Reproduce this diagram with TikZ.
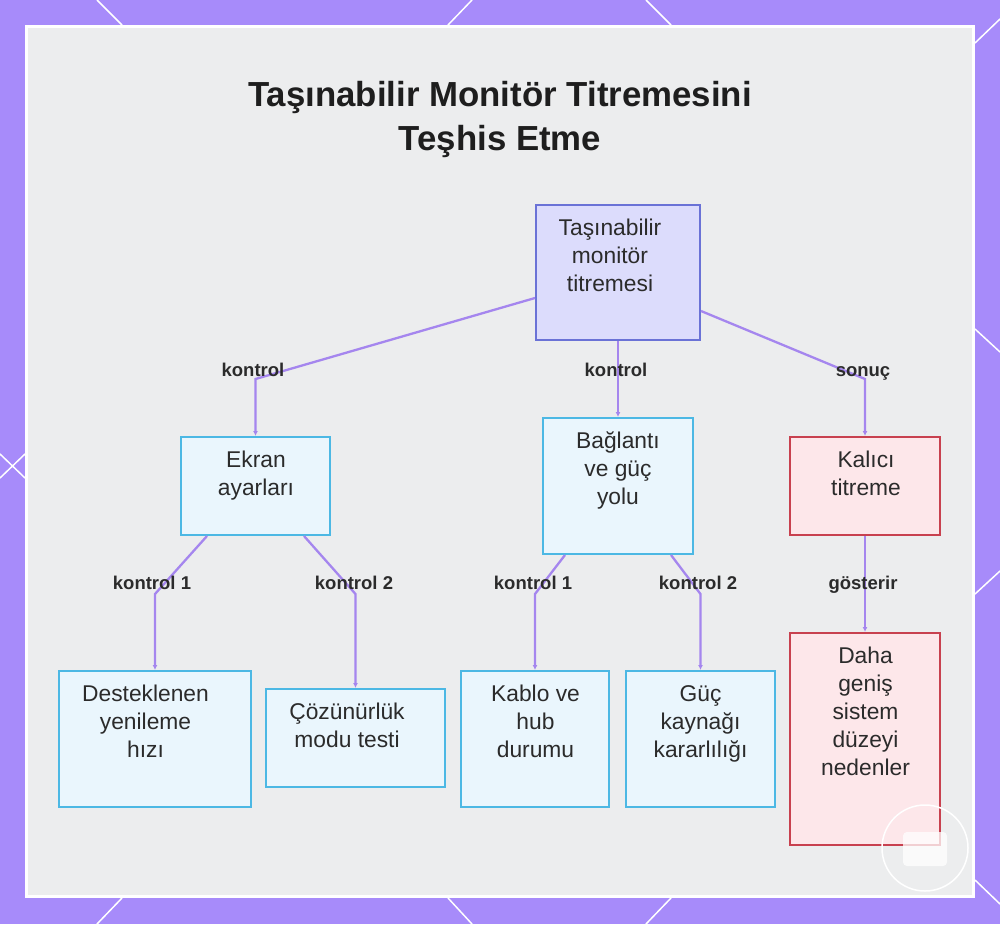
\documentclass[tikz,border=0pt]{standalone}
\usepackage{fontspec}
\setmainfont{Liberation Sans}
\usetikzlibrary{arrows.meta}
\definecolor{bgpurple}{HTML}{A78BFA}
\definecolor{panel}{HTML}{ECEDEE}
\definecolor{rootfill}{HTML}{DCDCFC}
\definecolor{rootdraw}{HTML}{6A72D6}
\definecolor{cyanfill}{HTML}{EAF6FD}
\definecolor{cyandraw}{HTML}{4CB8E4}
\definecolor{redfill}{HTML}{FDE7EA}
\definecolor{reddraw}{HTML}{C8414F}
\definecolor{connc}{HTML}{A586EE}
\definecolor{txt}{HTML}{2B2B2B}
\definecolor{titlec}{HTML}{1E1E1E}
\begin{document}
\begin{tikzpicture}[x=1pt,y=-1pt,
  boxbase/.style={rectangle, line width=2pt, inner sep=0pt},
  rootbox/.style={boxbase, fill=rootfill, draw=rootdraw},
  cyanbox/.style={boxbase, fill=cyanfill, draw=cyandraw},
  redbox/.style={boxbase, fill=redfill, draw=reddraw},
  boxtext/.style={anchor=base, inner sep=0pt, text=txt, font=\fontsize{22.8}{28}\selectfont},
  edgelabel/.style={anchor=base, inner sep=0pt, text=txt, font=\bfseries\fontsize{18.5}{22}\selectfont},
  titletext/.style={anchor=base, inner sep=0pt, text=titlec, font=\bfseries\fontsize{34.8}{44}\selectfont},
  conn/.style={draw=connc, line width=2.3pt, -{Latex[length=5pt,width=5pt]}},
  deco/.style={draw=white, line width=1.5pt},
]
\useasboundingbox (0,0) rectangle (1000,924);
% background
\fill[bgpurple] (0,0) rectangle (1000,924);
% decorative diagonals on the frame
\draw[deco] (97,0) -- (122,25);
\draw[deco] (472,0) -- (448,25);
\draw[deco] (646,0) -- (671,25);
\draw[deco] (1000,19) -- (975,43);
\draw[deco] (975,329) -- (1000,352);
\draw[deco] (975,594) -- (1000,571);
\draw[deco] (975,880) -- (1000,904);
\draw[deco] (122,898) -- (97,924);
\draw[deco] (448,898) -- (472,924);
\draw[deco] (671,898) -- (646,924);
\draw[deco] (0,454) -- (25,478);
\draw[deco] (0,478) -- (25,454);
% panel
\draw[white, line width=3pt, fill=panel] (26.5,26.5) rectangle (973.5,896.5);

% title
\node[titletext] (title) at (500,106) {\parbox[t]{700pt}{\centering Taşınabilir Monitör Titremesini\\Teşhis Etme}};

% boxes
\node[rootbox, minimum width=164pt, minimum height=135pt] (root) at (618,272.5) {};
\node[cyanbox, minimum width=149pt, minimum height=98pt] (ekran) at (255.5,486) {};
\node[cyanbox, minimum width=150pt, minimum height=136pt] (bag) at (618,486) {};
\node[redbox, minimum width=150pt, minimum height=98pt] (kalici) at (865,486) {};
\node[cyanbox, minimum width=192pt, minimum height=136pt] (dest) at (155,739) {};
\node[cyanbox, minimum width=179pt, minimum height=98pt] (coz) at (355.5,738) {};
\node[cyanbox, minimum width=148pt, minimum height=136pt] (kablo) at (535,739) {};
\node[cyanbox, minimum width=149pt, minimum height=136pt] (guc) at (700.5,739) {};
\node[redbox, minimum width=150pt, minimum height=212pt] (daha) at (865,739) {};

% box texts
\node[boxtext] (roottxt) at (610,235) {\parbox[t]{160pt}{\centering Taşınabilir\\monitör\\titremesi}};
\node[boxtext] (ekrantxt) at (256,467) {\parbox[t]{145pt}{\centering Ekran\\ayarları}};
\node[boxtext] (bagtxt) at (618,448) {\parbox[t]{145pt}{\centering Bağlantı\\ve güç\\yolu}};
\node[boxtext] (kalicitxt) at (866,467) {\parbox[t]{145pt}{\centering Kalıcı\\titreme}};
\node[boxtext] (desttxt) at (145.5,701) {\parbox[t]{185pt}{\centering Desteklenen\\yenileme\\hızı}};
\node[boxtext] (coztxt) at (347,719) {\parbox[t]{175pt}{\centering Çözünürlük\\modu testi}};
\node[boxtext] (kablotxt) at (535.5,701) {\parbox[t]{145pt}{\centering Kablo ve\\hub\\durumu}};
\node[boxtext] (guctxt) at (700.5,701) {\parbox[t]{145pt}{\centering Güç\\kaynağı\\kararlılığı}};
\node[boxtext] (dahatxt) at (865.5,663) {\parbox[t]{145pt}{\centering Daha\\geniş\\sistem\\düzeyi\\nedenler}};

% connectors
\draw[conn] ([yshift=43pt]root.south west) -- ([yshift=57pt]ekran.north) -- (ekran.north);
\draw[conn] (root.south) -- (bag.north);
\draw[conn] ([yshift=30pt]root.south east) -- ([yshift=57pt]kalici.north) -- (kalici.north);
\draw[conn] ([xshift=27pt]ekran.south west) -- ([yshift=76pt]dest.north) -- (dest.north);
\draw[conn] ([xshift=-27pt]ekran.south east) -- ([yshift=94pt]coz.north) -- (coz.north);
\draw[conn] ([xshift=23pt]bag.south west) -- ([yshift=76pt]kablo.north) -- (kablo.north);
\draw[conn] ([xshift=-23pt]bag.south east) -- ([yshift=76pt]guc.north) -- (guc.north);
\draw[conn] (kalici.south) -- (daha.north);

% connector labels
\node[edgelabel] (l1) at (253,376) {kontrol};
\node[edgelabel] (l2) at (616,376) {kontrol};
\node[edgelabel] (l3) at (863,376) {sonuç};
\node[edgelabel] (l4) at (152,589) {kontrol 1};
\node[edgelabel] (l5) at (354,589) {kontrol 2};
\node[edgelabel] (l6) at (533,589) {kontrol 1};
\node[edgelabel] (l7) at (698,589) {kontrol 2};
\node[edgelabel] (l8) at (863,589) {gösterir};

% corner badge
\draw[white, line width=1.5pt] (925,848) circle (43pt);
\fill[white, opacity=0.75, rounded corners=4pt] (903,832) rectangle (947,866);
\end{tikzpicture}
\end{document}
